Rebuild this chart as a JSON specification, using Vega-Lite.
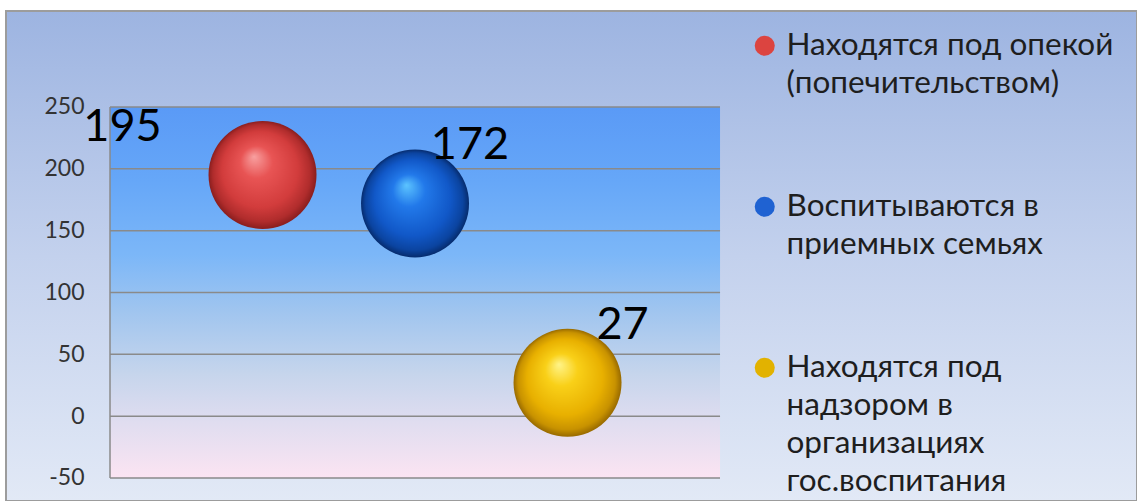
{
  "$schema": "https://vega.github.io/schema/vega-lite/v6.json",
  "width": 1131,
  "height": 490,
  "autosize": {"type": "none"},
  "padding": {"left": 6, "top": 11, "right": 0, "bottom": 0},
  "background": "#ffffff",
  "config": {
    "view": {
      "fill": {"gradient": "linear", "x1": 0, "y1": 0, "x2": 0, "y2": 1,
        "stops": [{"offset": 0, "color": "#9db4e1"}, {"offset": 0.5, "color": "#c3d1ed"}, {"offset": 1, "color": "#e2e9f6"}]},
      "stroke": "#9c9c9c",
      "strokeWidth": 2
    },
    "font": "Lato",
    "style": {"guide-label": {"lineHeight": 38}},
    "axisY": {"offset": -104, "domain": false, "ticks": false, "tickSize": 0, "grid": false, "labelPadding": 26, "labelFontSize": 23, "labelColor": "#333333", "labelFont": "Lato"}
  },
  "datasets": {
    "points": [
      {"category": "Находятся под опекой (попечительством)", "index": 1, "value": 195},
      {"category": "Воспитываются в приемных семьях", "index": 2, "value": 172},
      {"category": "Находятся под надзором в организациях гос.воспитания", "index": 3, "value": 27}
    ],
    "ticks": [{"tick": -50}, {"tick": 0}, {"tick": 50}, {"tick": 100}, {"tick": 150}, {"tick": 200}, {"tick": 250}]
  },
  "layer": [
    {
      "data": {"values": [{}]},
      "mark": {"type": "rect", "fill": {"gradient": "linear", "x1": 0, "y1": 0, "x2": 0, "y2": 1,
        "stops": [{"offset": 0, "color": "#5a9af6"}, {"offset": 0.2, "color": "#66a7f8"}, {"offset": 0.4, "color": "#7cb7f8"}, {"offset": 0.55, "color": "#a0c5ef"}, {"offset": 0.72, "color": "#c6d5ec"}, {"offset": 0.85, "color": "#e0ddf0"}, {"offset": 1, "color": "#fbe4f2"}]}},
      "encoding": {
        "x": {"datum": 0, "type": "quantitative", "scale": {"domain": [-0.682, 6.734], "nice": false, "zero": false}, "axis": null},
        "x2": {"datum": 4},
        "y": {"datum": -50, "type": "quantitative", "scale": {"domain": [-68.6, 327.6], "nice": false, "zero": false},
          "axis": {"title": null, "values": [-50, 0, 50, 100, 150, 200, 250], "labelExpr": "'' + datum.value"}},
        "y2": {"datum": 250}
      }
    },
    {
      "data": {"name": "ticks"},
      "mark": {"type": "rule", "color": "#8a8a8a", "strokeWidth": 1.5},
      "encoding": {
        "x": {"datum": 0, "type": "quantitative", "scale": {"domain": [-0.682, 6.734], "nice": false, "zero": false}, "axis": null},
        "x2": {"datum": 4},
        "y": {"field": "tick", "type": "quantitative", "scale": {"domain": [-68.6, 327.6], "nice": false, "zero": false},
          "axis": {"title": null, "values": [-50, 0, 50, 100, 150, 200, 250], "labelExpr": "'' + datum.value"}}
      }
    },
    {
      "data": {"values": [{}]},
      "mark": {"type": "rule", "color": "#8a8a8a", "strokeWidth": 1.5},
      "encoding": {
        "x": {"datum": 0, "type": "quantitative", "scale": {"domain": [-0.682, 6.734], "nice": false, "zero": false}, "axis": null},
        "y": {"datum": -50, "type": "quantitative", "scale": {"domain": [-68.6, 327.6], "nice": false, "zero": false},
          "axis": {"title": null, "values": [-50, 0, 50, 100, 150, 200, 250], "labelExpr": "'' + datum.value"}},
        "y2": {"datum": 250}
      }
    },
    {
      "data": {"name": "points"},
      "transform": [{"filter": "datum.index == 1"}],
      "mark": {"type": "point", "shape": "circle", "filled": true, "size": 11664, "opacity": 1, "strokeWidth": 0,
        "fill": {"gradient": "radial", "x1": 0.42, "y1": 0.33, "r1": 0, "x2": 0.5, "y2": 0.5, "r2": 0.5,
          "stops": [{"offset": 0, "color": "#f8a0a0"}, {"offset": 0.3, "color": "#e85454"}, {"offset": 0.7, "color": "#d23c3c"}, {"offset": 0.9, "color": "#b02c2c"}, {"offset": 1, "color": "#8a1e1e"}]}},
      "encoding": {
        "x": {"field": "index", "type": "quantitative", "scale": {"domain": [-0.682, 6.734], "nice": false, "zero": false}, "axis": null},
        "y": {"field": "value", "type": "quantitative", "scale": {"domain": [-68.6, 327.6], "nice": false, "zero": false},
          "axis": {"title": null, "values": [-50, 0, 50, 100, 150, 200, 250], "labelExpr": "'' + datum.value"}}
      }
    },
    {
      "data": {"name": "points"},
      "transform": [{"filter": "datum.index == 2"}],
      "mark": {"type": "point", "shape": "circle", "filled": true, "size": 11664, "opacity": 1, "strokeWidth": 0,
        "fill": {"gradient": "radial", "x1": 0.42, "y1": 0.33, "r1": 0, "x2": 0.5, "y2": 0.5, "r2": 0.5,
          "stops": [{"offset": 0, "color": "#5cc4ff"}, {"offset": 0.3, "color": "#2279ea"}, {"offset": 0.7, "color": "#1158c8"}, {"offset": 0.9, "color": "#0b44a0"}, {"offset": 1, "color": "#062c6e"}]}},
      "encoding": {
        "x": {"field": "index", "type": "quantitative", "scale": {"domain": [-0.682, 6.734], "nice": false, "zero": false}, "axis": null},
        "y": {"field": "value", "type": "quantitative", "scale": {"domain": [-68.6, 327.6], "nice": false, "zero": false},
          "axis": {"title": null, "values": [-50, 0, 50, 100, 150, 200, 250], "labelExpr": "'' + datum.value"}}
      }
    },
    {
      "data": {"name": "points"},
      "transform": [{"filter": "datum.index == 3"}],
      "mark": {"type": "point", "shape": "circle", "filled": true, "size": 11664, "opacity": 1, "strokeWidth": 0,
        "fill": {"gradient": "radial", "x1": 0.42, "y1": 0.33, "r1": 0, "x2": 0.5, "y2": 0.5, "r2": 0.5,
          "stops": [{"offset": 0, "color": "#fff48a"}, {"offset": 0.3, "color": "#f9d018"}, {"offset": 0.7, "color": "#e8b000"}, {"offset": 0.9, "color": "#c89200"}, {"offset": 1, "color": "#986a00"}]}},
      "encoding": {
        "x": {"field": "index", "type": "quantitative", "scale": {"domain": [-0.682, 6.734], "nice": false, "zero": false}, "axis": null},
        "y": {"field": "value", "type": "quantitative", "scale": {"domain": [-68.6, 327.6], "nice": false, "zero": false},
          "axis": {"title": null, "values": [-50, 0, 50, 100, 150, 200, 250], "labelExpr": "'' + datum.value"}}
      }
    },
    {
      "data": {"name": "points"},
      "mark": {"type": "point", "shape": "circle", "filled": true, "opacity": 0, "size": 400},
      "encoding": {
        "x": {"field": "index", "type": "quantitative", "scale": {"domain": [-0.682, 6.734], "nice": false, "zero": false}, "axis": null},
        "y": {"field": "value", "type": "quantitative", "scale": {"domain": [-68.6, 327.6], "nice": false, "zero": false},
          "axis": {"title": null, "values": [-50, 0, 50, 100, 150, 200, 250], "labelExpr": "'' + datum.value"}},
        "color": {"field": "category", "type": "nominal",
          "scale": {"domain": ["Находятся под опекой (попечительством)", "Воспитываются в приемных семьях", "Находятся под надзором в организациях гос.воспитания"], "range": ["#dc4440", "#1f62d2", "#e2b200"]},
          "legend": {"title": null, "orient": "none", "legendX": 743, "legendY": 19, "padding": 0,
            "symbolType": "circle", "symbolSize": 400, "symbolOpacity": 1, "symbolStrokeWidth": 0,
            "labelFont": "Lato", "labelFontSize": 31.5, "labelColor": "#1e1e1e", "labelOffset": 6, "labelLimit": 1000, "labelBaseline": "middle",
            "rowPadding": 90,
            "labelExpr": "datum.label == 'Находятся под опекой (попечительством)' ? ['Находятся под опекой', '(попечительством)'] : datum.label == 'Воспитываются в приемных семьях' ? ['Воспитываются в', 'приемных семьях'] : ['Находятся под', 'надзором в', 'организациях', 'гос.воспитания']"
          }
        }
      }
    },
    {
      "data": {"name": "points"},
      "transform": [{"filter": "datum.index == 1"}],
      "mark": {"type": "text", "font": "Lato", "fontSize": 45, "color": "#000000", "align": "center", "baseline": "middle", "dx": -140, "dy": -48},
      "encoding": {
        "x": {"field": "index", "type": "quantitative", "scale": {"domain": [-0.682, 6.734], "nice": false, "zero": false}, "axis": null},
        "y": {"field": "value", "type": "quantitative", "scale": {"domain": [-68.6, 327.6], "nice": false, "zero": false},
          "axis": {"title": null, "values": [-50, 0, 50, 100, 150, 200, 250], "labelExpr": "'' + datum.value"}},
        "text": {"field": "value", "type": "quantitative"}
      }
    },
    {
      "data": {"name": "points"},
      "transform": [{"filter": "datum.index != 1"}],
      "mark": {"type": "text", "font": "Lato", "fontSize": 45, "color": "#000000", "align": "center", "baseline": "middle", "dx": 55, "dy": -58},
      "encoding": {
        "x": {"field": "index", "type": "quantitative", "scale": {"domain": [-0.682, 6.734], "nice": false, "zero": false}, "axis": null},
        "y": {"field": "value", "type": "quantitative", "scale": {"domain": [-68.6, 327.6], "nice": false, "zero": false},
          "axis": {"title": null, "values": [-50, 0, 50, 100, 150, 200, 250], "labelExpr": "'' + datum.value"}},
        "text": {"field": "value", "type": "quantitative"}
      }
    }
  ]
}
